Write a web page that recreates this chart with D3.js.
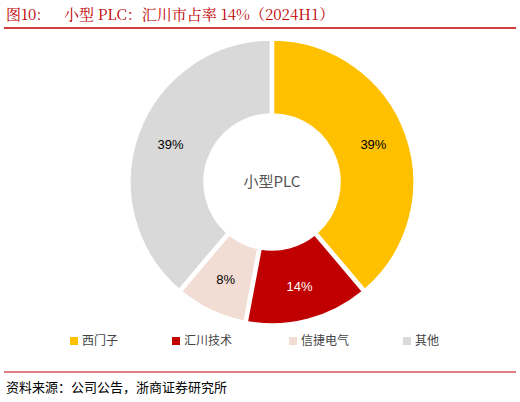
<!DOCTYPE html>
<html><head><meta charset="utf-8">
<script src="https://cdn.jsdelivr.net/npm/d3@7"></script>
<style>body{margin:0;background:#fff}</style>
</head><body><div id="chart"></div>
<script>
var names = ["西门子", "汇川技术", "信捷电气", "其他"];
var shares = [39, 14, 8, 39];
var colors = ["#FFC000", "#C00000", "#F2DDD5", "#D9D9D9"];
var labelColors = ["#000", "#fff", "#000", "#000"];

var W = 520, H = 402;
var svg = d3.select("#chart").append("svg").attr("width", W).attr("height", H)
    .style("font-family", "'Noto Sans CJK SC', sans-serif");

// title
svg.append("text").attr("x", 6).attr("y", 20).attr("fill", "#C00000")
    .style("font-size", "15px").style("font-family", "'Noto Serif CJK SC','Noto Sans CJK SC',serif")
    .text("图10:");
svg.append("text").attr("x", 64).attr("y", 20).attr("fill", "#C00000")
    .style("font-size", "15px").style("font-family", "'Noto Serif CJK SC','Noto Sans CJK SC',serif")
    .text("小型 PLC：汇川市占率 14%（2024H1）");
svg.append("line").attr("x1", 4).attr("x2", 516).attr("y1", 28).attr("y2", 28)
    .attr("stroke", "#C00000").attr("stroke-width", 1.5);

var cx = 272, cy = 182;
var pie = d3.pie().sort(null).value(function (d) { return d; }).padAngle(0.02);
var arc = d3.arc().innerRadius(68).outerRadius(142);
var labelArc = d3.arc().innerRadius(108).outerRadius(108);

var g = svg.append("g").attr("transform", "translate(" + cx + "," + cy + ")");
var arcs = pie(shares);
g.selectAll("path").data(arcs).enter().append("path")
    .attr("d", arc).attr("fill", function (d, i) { return colors[i]; })
    .attr("stroke", "#fff").attr("stroke-width", 1.5);
g.selectAll("text.lab").data(arcs).enter().append("text")
    .attr("class", "lab")
    .attr("transform", function (d) { return "translate(" + labelArc.centroid(d) + ")"; })
    .attr("text-anchor", "middle").attr("dy", "0.35em")
    .attr("fill", function (d, i) { return labelColors[i]; })
    .style("font-size", "13px").style("font-family", "Arial, 'Liberation Sans', sans-serif")
    .text(function (d) { return d.data + "%"; });
g.append("text").attr("text-anchor", "middle").attr("dy", "0.35em")
    .attr("fill", "#555").style("font-size", "15px").text("小型PLC");

// legend
var legX = [70, 172, 289, 403];
var leg = svg.selectAll("g.leg").data(names).enter().append("g")
    .attr("transform", function (d, i) { return "translate(" + legX[i] + ",341)"; });
leg.append("rect").attr("x", 0).attr("y", -4).attr("width", 8).attr("height", 8)
    .attr("fill", function (d, i) { return colors[i]; });
leg.append("text").attr("x", 12).attr("dy", "0.35em").style("font-size", "12px")
    .attr("fill", "#444").text(function (d) { return d; });

svg.append("line").attr("x1", 4).attr("x2", 516).attr("y1", 372).attr("y2", 372)
    .attr("stroke", "#C00000").attr("stroke-width", 1);
svg.append("text").attr("x", 6).attr("y", 392).style("font-size", "13px")
    .attr("fill", "#000").text("资料来源：公司公告，浙商证券研究所");
</script></body></html>
